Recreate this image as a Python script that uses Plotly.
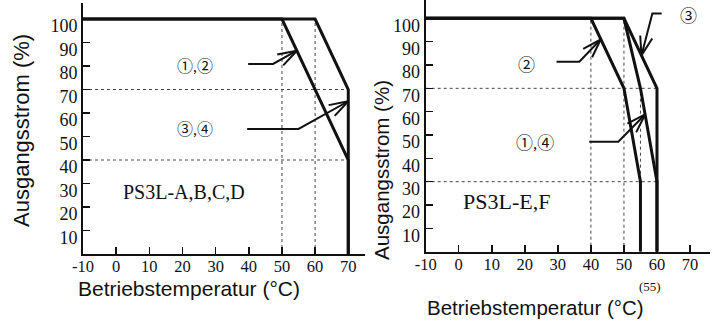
import math
import plotly.graph_objects as go

W, H = 719, 320

# ---------------- data ----------------
temp_ticks = [-10, 0, 10, 20, 30, 40, 50, 60, 70]
temp_tick_labels = ["-10", "0", "10", "20", "30", "40", "50", "60", "70"]
load_ticks = [10, 20, 30, 40, 50, 60, 70, 80, 90, 100]
load_tick_labels = ["10", "20", "30", "40", "50", "60", "70", "80", "90", "100"]

# left chart: PS3L-A,B,C,D
left_temp_12 = [-10, 50, 70, 70]
left_load_12 = [100, 100, 40, 0]
left_temp_34 = [-10, 60, 70, 70]
left_load_34 = [100, 100, 70, 0]

# right chart: PS3L-E,F
right_temp_2 = [-10, 40, 50, 55, 55]
right_load_2 = [100, 100, 70, 30, 0]
right_temp_14 = [-10, 50, 55, 60, 60]
right_load_14 = [100, 100, 70, 30, 0]
right_temp_3 = [-10, 50, 60, 60]
right_load_3 = [100, 100, 70, 0]

# ---------------- geometry ----------------
LX0, LX1 = 83, 365          # left plot px
LY0, LY1 = 254, 3           # bottom, top px
RX0, RX1 = 425.7, 710
RY0, RY1 = 251.7, 0

l_xrange = [-10, -10 + (LX1 - LX0) / 3.316]
l_yrange = [0, (LY0 - LY1) / 2.35]
r_xrange = [-10, -10 + (RX1 - RX0) / 3.304]
r_yrange = [0, (RY0 - RY1) / 2.334]

l_sx = (LX1 - LX0) / (l_xrange[1] - l_xrange[0])
l_sy = (LY0 - LY1) / (l_yrange[1] - l_yrange[0])
r_sx = (RX1 - RX0) / (r_xrange[1] - r_xrange[0])
r_sy = (RY0 - RY1) / (r_yrange[1] - r_yrange[0])

BLACK = "#111111"
fig = go.Figure()


def curve(xs, ys, xa, ya):
    fig.add_trace(go.Scatter(x=xs, y=ys, mode="lines", xaxis=xa, yaxis=ya,
                             line=dict(color=BLACK, width=3), hoverinfo="skip",
                             showlegend=False))


def dotted(xs, ys, xa, ya):
    fig.add_trace(go.Scatter(x=xs, y=ys, mode="lines", xaxis=xa, yaxis=ya,
                             line=dict(color="#444444", width=1, dash="dot"),
                             hoverinfo="skip", showlegend=False))


def arrow(pts, xa, ya, sx, sy, L=20, ang=18):
    xs = [p[0] for p in pts]
    ys = [p[1] for p in pts]
    tx, ty = pts[-1]
    px, py = pts[-2]
    th = math.atan2((py - ty) * sy, (px - tx) * sx)
    heads_x, heads_y = [], []
    for s in (1, -1):
        a = th + s * math.radians(ang)
        heads_x += [tx, tx + L * math.cos(a) / sx, None]
        heads_y += [ty, ty + L * math.sin(a) / sy, None]
    fig.add_trace(go.Scatter(x=xs + [None] + heads_x, y=ys + [None] + heads_y,
                             mode="lines", xaxis=xa, yaxis=ya,
                             line=dict(color=BLACK, width=2), hoverinfo="skip",
                             showlegend=False))


# left chart
dotted([50, 50, None, 60, 60], [0, 100, None, 0, 100], "x", "y")
dotted([-10, 70, None, -10, 70], [70, 70, None, 40, 40], "x", "y")
curve(left_temp_12, left_load_12, "x", "y")
curve(left_temp_34, left_load_34, "x", "y")
arrow([(39.8, 80.9), (47.3, 80.9), (54.5, 86.5)], "x", "y", l_sx, l_sy)
arrow([(39.5, 53.2), (55, 53.2), (70, 65)], "x", "y", l_sx, l_sy)

# right chart
dotted([40, 40, None, 50, 50, None, 55, 55], [0, 100, None, 0, 100, None, 0, 70], "x2", "y2")
dotted([-10, 60, None, -10, 60], [70, 70, None, 30, 30], "x2", "y2")
curve(right_temp_2, right_load_2, "x2", "y2")
curve(right_temp_14, right_load_14, "x2", "y2")
curve(right_temp_3, right_load_3, "x2", "y2")
arrow([(29.6, 81.4), (36.5, 81.4), (43.0, 91.0)], "x2", "y2", r_sx, r_sy)
arrow([(61.4, 102.1), (58.6, 102.1), (55.3, 84.1)], "x2", "y2", r_sx, r_sy)
arrow([(39.5, 47.1), (48.3, 47.1), (56.4, 58.8)], "x2", "y2", r_sx, r_sy)

serif = "Liberation Serif, Noto Sans CJK JP, serif"
sans = "Liberation Sans, Arial, sans-serif"

axis_common = dict(showline=True, linecolor=BLACK, linewidth=2, ticks="inside",
                   ticklen=7, tickwidth=1.5, tickcolor=BLACK, showgrid=False,
                   zeroline=False, fixedrange=True, automargin=False)
xfont = dict(family=serif, size=16.5, color=BLACK)
yfont = dict(family=serif, size=18, color=BLACK)

fig.update_layout(
    width=W, height=H, margin=dict(l=0, r=0, t=0, b=0, autoexpand=False),
    paper_bgcolor="white", plot_bgcolor="white", showlegend=False,
    xaxis=dict(domain=[LX0 / W, LX1 / W], range=l_xrange, anchor="y",
               tickvals=temp_ticks, ticktext=temp_tick_labels, ticklabelstandoff=-4,
               tickfont=xfont, **axis_common),
    yaxis=dict(domain=[(H - LY0) / H, (H - LY1) / H], range=l_yrange, anchor="x",
               tickvals=load_ticks, ticktext=load_tick_labels, ticklabelshift=7,
               tickfont=yfont, **axis_common),
    xaxis2=dict(domain=[RX0 / W, RX1 / W], range=r_xrange, anchor="y2",
                tickvals=temp_ticks, ticktext=temp_tick_labels, ticklabelstandoff=-4,
                tickfont=xfont, **axis_common),
    yaxis2=dict(domain=[(H - RY0) / H, (H - RY1) / H], range=r_yrange, anchor="x2",
                tickvals=load_ticks, ticktext=load_tick_labels, ticklabelshift=7,
                tickfont=yfont, **axis_common),
)

C = dict(xanchor="center", yanchor="middle", showarrow=False)
ann = []
# in-plot labels
ann.append(dict(x=23.8, y=80, xref="x", yref="y", text="①,②",
                font=dict(family=serif, size=16, color=BLACK), **C))
ann.append(dict(x=23.8, y=52.8, xref="x", yref="y", text="③,④",
                font=dict(family=serif, size=16, color=BLACK), **C))
ann.append(dict(x=20.5, y=26.4, xref="x", yref="y", text="PS3L-A,B,C,D",
                font=dict(family=serif, size=20, color=BLACK), **C))
ann.append(dict(x=20.5, y=79.6, xref="x2", yref="y2", text="②",
                font=dict(family=serif, size=17, color=BLACK), **C))
ann.append(dict(x=23.1, y=46.4, xref="x2", yref="y2", text="①,④",
                font=dict(family=serif, size=17, color=BLACK), **C))
ann.append(dict(x=69.5, y=100.6, xref="x2", yref="y2", text="③",
                font=dict(family=serif, size=17, color=BLACK), **C))
ann.append(dict(x=14.5, y=21.7, xref="x2", yref="y2", text="PS3L-E,F",
                font=dict(family=serif, size=22, color=BLACK), **C))
# axis titles
ann.append(dict(x=189 / W, y=(H - 288) / H, xref="paper", yref="paper",
                text="Betriebstemperatur (°C)",
                font=dict(family=sans, size=21, color=BLACK), **C))
ann.append(dict(x=21 / W, y=(H - 131) / H, xref="paper", yref="paper",
                text="Ausgangsstrom (%)", textangle=-90,
                font=dict(family=sans, size=22, color=BLACK), **C))
ann.append(dict(x=535 / W, y=(H - 307) / H, xref="paper", yref="paper",
                text="Betriebstemperatur (°C)",
                font=dict(family=sans, size=20.5, color=BLACK), **C))
ann.append(dict(x=381 / W, y=(H - 170) / H, xref="paper", yref="paper",
                text="Ausgangsstrom (%)", textangle=-90,
                font=dict(family=sans, size=20.5, color=BLACK), **C))
ann.append(dict(x=650 / W, y=(H - 286) / H, xref="paper", yref="paper",
                text="(55)",
                font=dict(family=serif, size=13, color=BLACK), **C))
fig.update_layout(annotations=ann)

fig.write_html("out.html", config={"displayModeBar": False, "staticPlot": True},
               post_script="document.body.style.margin='0';"
                           "document.body.style.overflow='hidden';")
